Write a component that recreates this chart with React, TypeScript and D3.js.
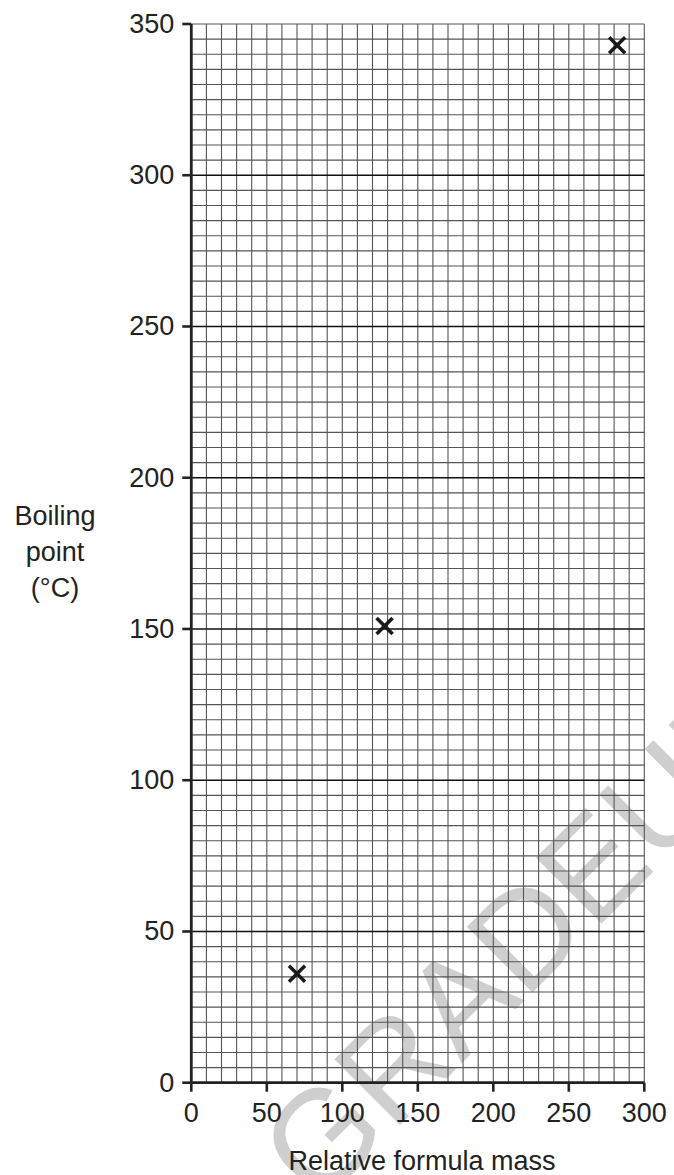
import React from "react";
import * as d3 from "d3";

const W = 674;
const H = 1175;

const massValues = [70, 128, 282];
const boilingValues = [36, 151, 343];
const xTicks = [0, 50, 100, 150, 200, 250, 300];
const yTicks = [0, 50, 100, 150, 200, 250, 300, 350];
const yLabelLines = ["Boiling", "point", "(°C)"];
const xLabel = "Relative formula mass";
const watermark = "GRADEUP";

export default function App() {
  const x = d3.scaleLinear().domain([0, 300]).range([191.3, 644.3]);
  const y = d3.scaleLinear().domain([0, 350]).range([1082.7, 24]);
  const xMinor = d3.range(0, 301, 10);
  const yMinor = d3.range(0, 351, 5);
  const font = "'Liberation Sans', Arial, sans-serif";
  const fs = 27;
  const pts = massValues.map((m, i) => [x(m), y(boilingValues[i])]);
  const arm = 8;

  return (
    <svg
      width={W}
      height={H}
      style={{ position: "absolute", left: 0, top: 0, background: "#fff" }}
    >
      {/* watermark (under the grid) */}
      <text
        x={0}
        y={0}
        transform="translate(318,1207) rotate(-45)"
        fontFamily={font}
        fontSize={135}
        fill="#cfcfcf"
      >
        {watermark}
      </text>
      {/* minor vertical grid */}
      {xMinor.map((v) => (
        <line key={"vx" + v} x1={x(v)} x2={x(v)} y1={y(0)} y2={y(350)} stroke="#555" strokeWidth={1.1} />
      ))}
      {/* horizontal grid */}
      {yMinor.map((v) => (
        <line
          key={"hy" + v}
          x1={x(0)}
          x2={x(300)}
          y1={y(v)}
          y2={y(v)}
          stroke={v % 50 === 0 && v !== 350 ? "#111" : "#555"}
          strokeWidth={v % 50 === 0 && v !== 350 ? 1.6 : 1.1}
        />
      ))}
      {/* axes */}
      <line x1={x(0)} x2={x(0)} y1={y(0) + 1} y2={y(350)} stroke="#222" strokeWidth={2.8} />
      <line x1={x(0) - 1.4} x2={x(300)} y1={y(0)} y2={y(0)} stroke="#222" strokeWidth={2.8} />
      {/* y ticks */}
      {yTicks.map((v) => (
        <g key={"yt" + v}>
          <line x1={x(0) - 9} x2={x(0)} y1={y(v)} y2={y(v)} stroke="#222" strokeWidth={2.6} />
          <text
            x={x(0) - 17}
            y={y(v)}
            textAnchor="end"
            dominantBaseline="central"
            fontFamily={font}
            fontSize={fs}
            fill="#222"
          >
            {v}
          </text>
        </g>
      ))}
      {/* x ticks */}
      {xTicks.map((v) => (
        <g key={"xt" + v}>
          <line x1={x(v)} x2={x(v)} y1={y(0)} y2={y(0) + 9} stroke="#222" strokeWidth={2.6} />
          <text x={x(v)} y={1122} textAnchor="middle" fontFamily={font} fontSize={fs} fill="#222">
            {v}
          </text>
        </g>
      ))}
      {/* points */}
      {pts.map(([px, py], i) => (
        <g key={"p" + i} stroke="#1a1a1a" strokeWidth={3.6} strokeLinecap="butt">
          <line x1={px - arm} y1={py - arm} x2={px + arm} y2={py + arm} />
          <line x1={px - arm} y1={py + arm} x2={px + arm} y2={py - arm} />
        </g>
      ))}
      {/* axis labels */}
      {yLabelLines.map((t, i) => (
        <text key={t} x={55} y={525 + i * 36} textAnchor="middle" fontFamily={font} fontSize={fs} fill="#222">
          {t}
        </text>
      ))}
      <text x={422} y={1170} textAnchor="middle" fontFamily={font} fontSize={fs} fill="#222">
        {xLabel}
      </text>
    </svg>
  );
}
